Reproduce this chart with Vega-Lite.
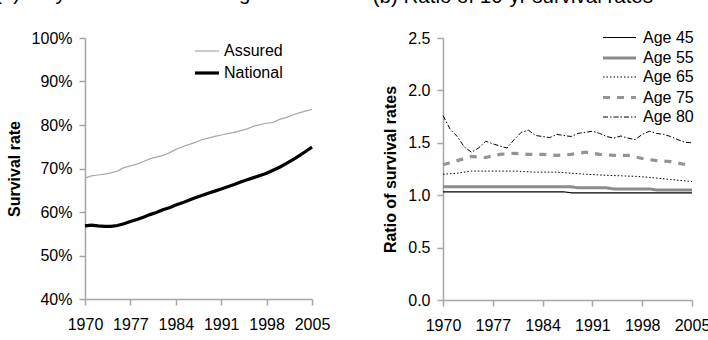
{
  "$schema": "https://vega.github.io/schema/vega-lite/v6.json",
  "padding": {"left": -5, "top": -17, "right": 0, "bottom": 0},
  "datasets": {
    "a": [
      {"year":1970,"series":"Assured","value":0.678},{"year":1971,"series":"Assured","value":0.683},{"year":1972,"series":"Assured","value":0.685},{"year":1973,"series":"Assured","value":0.687},{"year":1974,"series":"Assured","value":0.690},{"year":1975,"series":"Assured","value":0.694},{"year":1976,"series":"Assured","value":0.702},{"year":1977,"series":"Assured","value":0.706},{"year":1978,"series":"Assured","value":0.710},{"year":1979,"series":"Assured","value":0.716},{"year":1980,"series":"Assured","value":0.722},{"year":1981,"series":"Assured","value":0.726},{"year":1982,"series":"Assured","value":0.730},{"year":1983,"series":"Assured","value":0.736},{"year":1984,"series":"Assured","value":0.744},{"year":1985,"series":"Assured","value":0.750},{"year":1986,"series":"Assured","value":0.755},{"year":1987,"series":"Assured","value":0.760},{"year":1988,"series":"Assured","value":0.766},{"year":1989,"series":"Assured","value":0.770},{"year":1990,"series":"Assured","value":0.774},{"year":1991,"series":"Assured","value":0.777},{"year":1992,"series":"Assured","value":0.780},{"year":1993,"series":"Assured","value":0.783},{"year":1994,"series":"Assured","value":0.787},{"year":1995,"series":"Assured","value":0.791},{"year":1996,"series":"Assured","value":0.797},{"year":1997,"series":"Assured","value":0.801},{"year":1998,"series":"Assured","value":0.804},{"year":1999,"series":"Assured","value":0.806},{"year":2000,"series":"Assured","value":0.813},{"year":2001,"series":"Assured","value":0.817},{"year":2002,"series":"Assured","value":0.823},{"year":2003,"series":"Assured","value":0.828},{"year":2004,"series":"Assured","value":0.832},{"year":2005,"series":"Assured","value":0.836},
      {"year":1970,"series":"National","value":0.568},{"year":1971,"series":"National","value":0.570},{"year":1972,"series":"National","value":0.568},{"year":1973,"series":"National","value":0.567},{"year":1974,"series":"National","value":0.567},{"year":1975,"series":"National","value":0.569},{"year":1976,"series":"National","value":0.573},{"year":1977,"series":"National","value":0.578},{"year":1978,"series":"National","value":0.583},{"year":1979,"series":"National","value":0.588},{"year":1980,"series":"National","value":0.594},{"year":1981,"series":"National","value":0.599},{"year":1982,"series":"National","value":0.605},{"year":1983,"series":"National","value":0.610},{"year":1984,"series":"National","value":0.616},{"year":1985,"series":"National","value":0.621},{"year":1986,"series":"National","value":0.627},{"year":1987,"series":"National","value":0.633},{"year":1988,"series":"National","value":0.638},{"year":1989,"series":"National","value":0.643},{"year":1990,"series":"National","value":0.648},{"year":1991,"series":"National","value":0.653},{"year":1992,"series":"National","value":0.658},{"year":1993,"series":"National","value":0.663},{"year":1994,"series":"National","value":0.669},{"year":1995,"series":"National","value":0.674},{"year":1996,"series":"National","value":0.679},{"year":1997,"series":"National","value":0.684},{"year":1998,"series":"National","value":0.689},{"year":1999,"series":"National","value":0.696},{"year":2000,"series":"National","value":0.703},{"year":2001,"series":"National","value":0.711},{"year":2002,"series":"National","value":0.720},{"year":2003,"series":"National","value":0.729},{"year":2004,"series":"National","value":0.739},{"year":2005,"series":"National","value":0.749}
    ],
    "b": [
      {"year":1970,"age":"Age 45","ratio":1.032},{"year":1987,"age":"Age 45","ratio":1.032},{"year":1988,"age":"Age 45","ratio":1.023},{"year":2005,"age":"Age 45","ratio":1.023},
      {"year":1970,"age":"Age 55","ratio":1.08},{"year":1988,"age":"Age 55","ratio":1.08},{"year":1989,"age":"Age 55","ratio":1.07},{"year":1993,"age":"Age 55","ratio":1.07},{"year":1994,"age":"Age 55","ratio":1.06},{"year":1999,"age":"Age 55","ratio":1.06},{"year":2000,"age":"Age 55","ratio":1.05},{"year":2005,"age":"Age 55","ratio":1.05},
      {"year":1970,"age":"Age 65","ratio":1.20},{"year":1972,"age":"Age 65","ratio":1.21},{"year":1974,"age":"Age 65","ratio":1.23},{"year":1980,"age":"Age 65","ratio":1.23},{"year":1983,"age":"Age 65","ratio":1.22},{"year":1986,"age":"Age 65","ratio":1.22},{"year":1990,"age":"Age 65","ratio":1.20},{"year":1993,"age":"Age 65","ratio":1.19},{"year":1997,"age":"Age 65","ratio":1.18},{"year":1999,"age":"Age 65","ratio":1.17},{"year":2002,"age":"Age 65","ratio":1.15},{"year":2005,"age":"Age 65","ratio":1.13},
      {"year":1970,"age":"Age 75","ratio":1.29},{"year":1972,"age":"Age 75","ratio":1.33},{"year":1974,"age":"Age 75","ratio":1.37},{"year":1976,"age":"Age 75","ratio":1.36},{"year":1978,"age":"Age 75","ratio":1.39},{"year":1980,"age":"Age 75","ratio":1.40},{"year":1982,"age":"Age 75","ratio":1.39},{"year":1984,"age":"Age 75","ratio":1.39},{"year":1986,"age":"Age 75","ratio":1.38},{"year":1988,"age":"Age 75","ratio":1.39},{"year":1990,"age":"Age 75","ratio":1.41},{"year":1992,"age":"Age 75","ratio":1.39},{"year":1994,"age":"Age 75","ratio":1.38},{"year":1996,"age":"Age 75","ratio":1.38},{"year":1998,"age":"Age 75","ratio":1.35},{"year":2000,"age":"Age 75","ratio":1.33},{"year":2002,"age":"Age 75","ratio":1.32},{"year":2005,"age":"Age 75","ratio":1.28},
      {"year":1970,"age":"Age 80","ratio":1.76},{"year":1971,"age":"Age 80","ratio":1.63},{"year":1972,"age":"Age 80","ratio":1.56},{"year":1973,"age":"Age 80","ratio":1.46},{"year":1974,"age":"Age 80","ratio":1.41},{"year":1975,"age":"Age 80","ratio":1.45},{"year":1976,"age":"Age 80","ratio":1.515},{"year":1977,"age":"Age 80","ratio":1.49},{"year":1978,"age":"Age 80","ratio":1.47},{"year":1979,"age":"Age 80","ratio":1.45},{"year":1980,"age":"Age 80","ratio":1.53},{"year":1981,"age":"Age 80","ratio":1.60},{"year":1982,"age":"Age 80","ratio":1.62},{"year":1983,"age":"Age 80","ratio":1.57},{"year":1984,"age":"Age 80","ratio":1.56},{"year":1985,"age":"Age 80","ratio":1.55},{"year":1986,"age":"Age 80","ratio":1.58},{"year":1987,"age":"Age 80","ratio":1.57},{"year":1988,"age":"Age 80","ratio":1.56},{"year":1989,"age":"Age 80","ratio":1.59},{"year":1990,"age":"Age 80","ratio":1.60},{"year":1991,"age":"Age 80","ratio":1.61},{"year":1992,"age":"Age 80","ratio":1.59},{"year":1993,"age":"Age 80","ratio":1.56},{"year":1994,"age":"Age 80","ratio":1.545},{"year":1995,"age":"Age 80","ratio":1.565},{"year":1996,"age":"Age 80","ratio":1.545},{"year":1997,"age":"Age 80","ratio":1.53},{"year":1998,"age":"Age 80","ratio":1.58},{"year":1999,"age":"Age 80","ratio":1.61},{"year":2000,"age":"Age 80","ratio":1.59},{"year":2001,"age":"Age 80","ratio":1.58},{"year":2002,"age":"Age 80","ratio":1.56},{"year":2003,"age":"Age 80","ratio":1.53},{"year":2004,"age":"Age 80","ratio":1.505},{"year":2005,"age":"Age 80","ratio":1.50}
    ]
  },
  "hconcat": [
    {
      "width": 227, "height": 261,
      "title": {"text": "(a) 10-yr survival rates at age 65", "anchor": "start", "frame": "bounds", "fontSize": 20.5, "fontWeight": "normal", "dx": -11, "offset": 26},
      "data": {"name": "a"},
      "mark": {"type": "line", "interpolate": "linear"},
      "encoding": {
        "x": {"field": "year", "type": "quantitative", "scale": {"domain": [1970, 2005], "nice": false, "zero": false},
              "axis": {"values": [1970, 1977, 1984, 1991, 1998, 2005], "format": "d", "title": null}},
        "y": {"field": "value", "type": "quantitative", "scale": {"domain": [0.4, 1.0], "nice": false, "zero": false},
              "axis": {"values": [0.4, 0.5, 0.6, 0.7, 0.8, 0.9, 1.0], "format": ".0%", "title": "Survival rate"}},
        "color": {"field": "series", "type": "nominal", "scale": {"domain": ["Assured", "National"], "range": ["#a8a8a8", "#000000"]},
                  "legend": {"title": null, "orient": "none", "legendX": 108, "legendY": 0, "symbolSize": 576, "symbolType": "stroke", "rowPadding": -1}},
        "strokeWidth": {"field": "series", "type": "nominal", "scale": {"type": "ordinal", "domain": ["Assured", "National"], "range": [1.2, 3.2]}, "legend": null}
      }
    },
    {
      "width": 249, "height": 262,
      "title": {"text": "(b) Ratio of 10-yr survival rates", "anchor": "start", "frame": "bounds", "fontSize": 20.5, "fontWeight": "normal", "dx": -10, "offset": 20},
      "data": {"name": "b"},
      "mark": {"type": "line"},
      "encoding": {
        "x": {"field": "year", "type": "quantitative", "scale": {"domain": [1970, 2005], "nice": false, "zero": false},
              "axis": {"values": [1970, 1977, 1984, 1991, 1998, 2005], "format": "d", "title": null}},
        "y": {"field": "ratio", "type": "quantitative", "scale": {"domain": [0, 2.5], "nice": false},
              "axis": {"values": [0, 0.5, 1.0, 1.5, 2.0, 2.5], "format": ".1f", "title": "Ratio of survival rates"}},
        "color": {"field": "age", "type": "nominal", "scale": {"domain": ["Age 45", "Age 55", "Age 65", "Age 75", "Age 80"], "range": ["#000000", "#8c8c8c", "#000000", "#949494", "#000000"]},
                  "legend": {"title": null, "orient": "none", "legendX": 172, "legendY": -11, "symbolSize": 361, "symbolType": "M-2.474,0H1", "labelOffset": 5, "rowPadding": 1}},
        "strokeDash": {"field": "age", "type": "nominal", "scale": {"domain": ["Age 45", "Age 55", "Age 65", "Age 75", "Age 80"], "range": [[1, 0], [1, 0], [1.5, 2], [7, 7], [5, 2, 1.5, 2]]}},
        "strokeWidth": {"field": "age", "type": "nominal", "scale": {"type": "ordinal", "domain": ["Age 45", "Age 55", "Age 65", "Age 75", "Age 80"], "range": [1.2, 3, 1, 3.2, 1]}}
      }
    }
  ],
  "spacing": 42,
  "resolve": {"scale": {"color": "independent", "strokeWidth": "independent", "strokeDash": "independent", "x": "independent", "y": "independent"}, "legend": {"color": "independent", "strokeWidth": "independent", "strokeDash": "independent"}},
  "config": {
    "font": "Liberation Sans",
    "view": {"stroke": null},
    "axis": {"grid": false, "domainColor": "#a6a6a6", "tickColor": "#a6a6a6", "domainWidth": 1.5, "tickWidth": 1.5, "tickSize": 6,
             "labelFontSize": 16, "labelColor": "#000000", "labelPadding": 7, "titleFontSize": 16, "titleFontWeight": "bold", "titleColor": "#000000", "titlePadding": 9,
             "labelOverlap": false, "labelFlush": false},
    "axisX": {"labelPadding": 11},
    "legend": {"labelFontSize": 16, "labelColor": "#000000", "labelOffset": 3, "padding": 0, "rowPadding": 0, "symbolStrokeColor": "#000000"},
    "title": {"color": "#000000"}
  }
}
